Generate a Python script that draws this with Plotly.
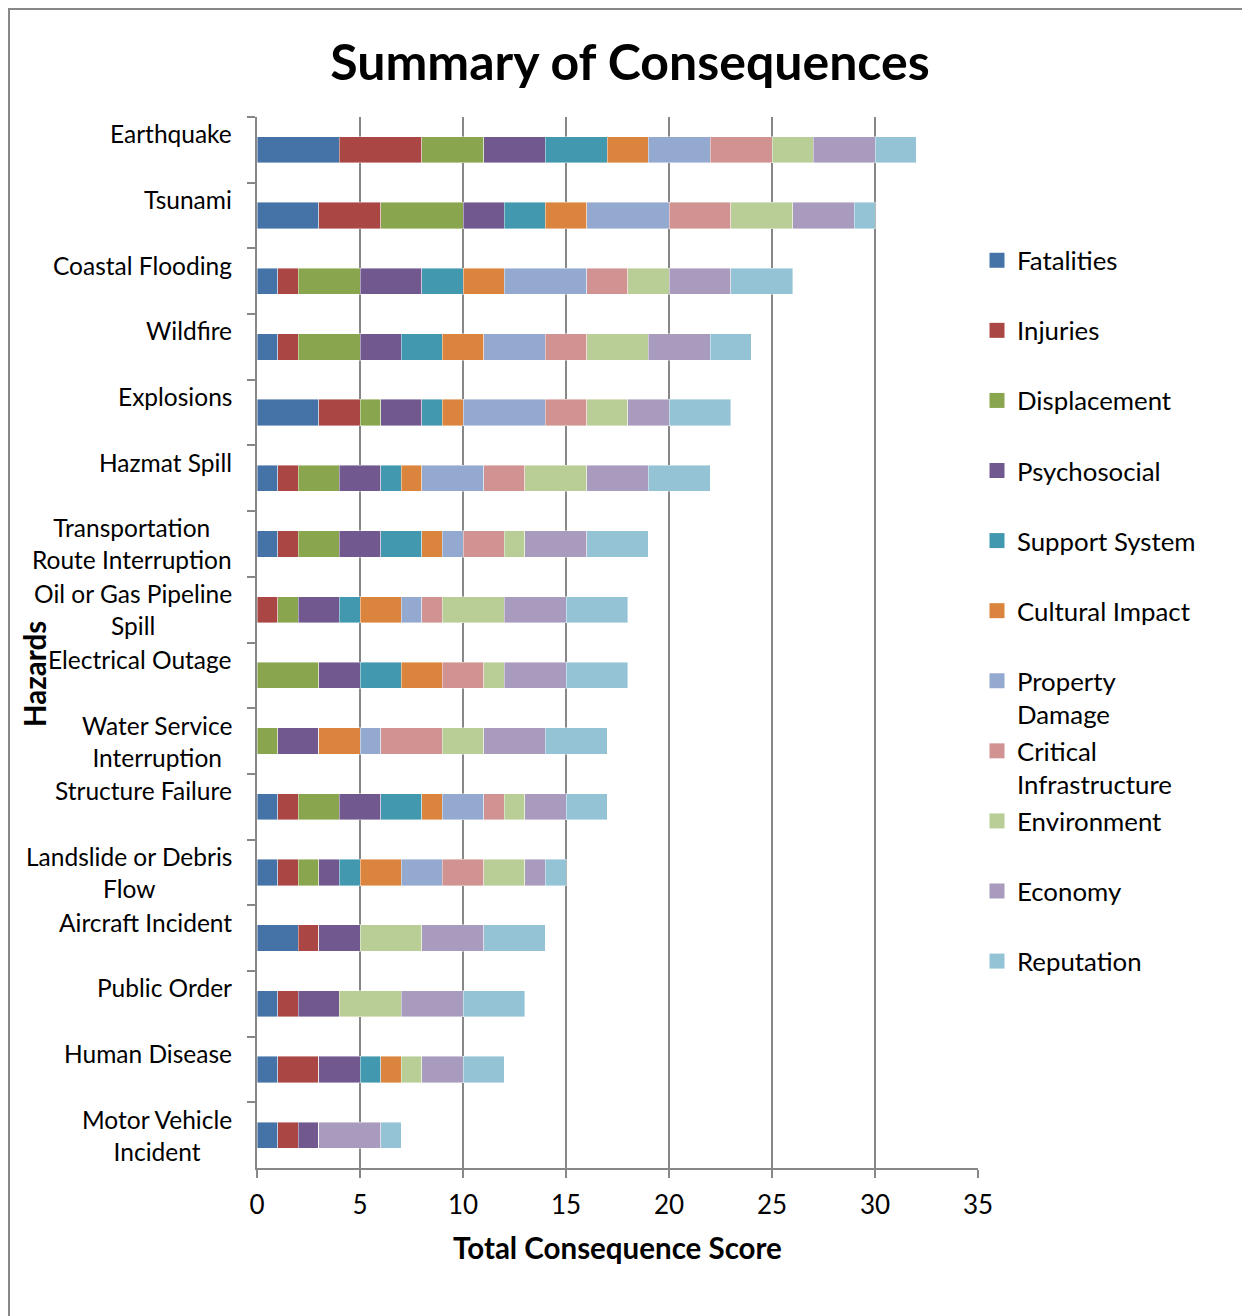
import plotly.graph_objects as go

hazards = ["Earthquake", "Tsunami", "Coastal Flooding", "Wildfire", "Explosions",
           "Hazmat Spill", "Transportation Route Interruption", "Oil or Gas Pipeline Spill",
           "Electrical Outage", "Water Service Interruption", "Structure Failure",
           "Landslide or Debris Flow", "Aircraft Incident", "Public Order",
           "Human Disease", "Motor Vehicle Incident"]

hazard_labels = ["Earthquake<br> ", "Tsunami<br> ", "Coastal Flooding<br> ", "Wildfire<br> ",
                 "Explosions<br> ", "Hazmat Spill<br> ", "Transportation<br>Route Interruption",
                 "Oil or Gas Pipeline<br>Spill", "Electrical Outage<br> ",
                 "Water Service<br>Interruption", "Structure Failure<br> ",
                 "Landslide or Debris<br>Flow", "Aircraft Incident<br> ", "Public Order<br> ",
                 "Human Disease<br> ", "Motor Vehicle<br>Incident"]

series_names = ["Fatalities", "Injuries", "Displacement", "Psychosocial", "Support System",
                "Cultural Impact", "Property Damage", "Critical Infrastructure",
                "Environment", "Economy", "Reputation"]

legend_labels = ["Fatalities<br> ", "Injuries<br> ", "Displacement<br> ", "Psychosocial<br> ",
                 "Support System<br> ", "Cultural Impact<br> ", "Property<br>Damage",
                 "Critical<br>Infrastructure", "Environment<br> ", "Economy<br> ",
                 "Reputation<br> "]

colors = ["#4572A7", "#AA4643", "#89A54E", "#71588F", "#4198AF", "#DB843D",
          "#93A9CF", "#D19392", "#B9CD96", "#A99BBD", "#93C3D5"]

# values per hazard (same order as hazards)
fatalities     = [4, 3, 1, 1, 3, 1, 1, 0, 0, 0, 1, 1, 2, 1, 1, 1]
injuries       = [4, 3, 1, 1, 2, 1, 1, 1, 0, 0, 1, 1, 1, 1, 2, 1]
displacement   = [3, 4, 3, 3, 1, 2, 2, 1, 3, 1, 2, 1, 0, 0, 0, 0]
psychosocial   = [3, 2, 3, 2, 2, 2, 2, 2, 2, 2, 2, 1, 2, 2, 2, 1]
support_system = [3, 2, 2, 2, 1, 1, 2, 1, 2, 0, 2, 1, 0, 0, 1, 0]
cultural       = [2, 2, 2, 2, 1, 1, 1, 2, 2, 2, 1, 2, 0, 0, 1, 0]
property_dmg   = [3, 4, 4, 3, 4, 3, 1, 1, 0, 1, 2, 2, 0, 0, 0, 0]
critical_infra = [3, 3, 2, 2, 2, 2, 2, 1, 2, 3, 1, 2, 0, 0, 0, 0]
environment    = [2, 3, 2, 3, 2, 3, 1, 3, 1, 2, 1, 2, 3, 3, 1, 0]
economy        = [3, 3, 3, 3, 2, 3, 3, 3, 3, 3, 2, 1, 3, 3, 2, 3]
reputation     = [2, 1, 3, 2, 3, 3, 3, 3, 3, 3, 2, 1, 3, 3, 2, 1]

series_values = [fatalities, injuries, displacement, psychosocial, support_system, cultural,
                 property_dmg, critical_infra, environment, economy, reputation]

x_ticks = [0, 5, 10, 15, 20, 25, 30, 35]

FONT = "Lato"
GRID = "#878787"
OFF = 8                      # page body margin
W, H = 1250 - OFF, 1316 - OFF
PX0, PX1, PY0, PY1 = 257, 978, 117, 1168   # plot area in screen pixels
L, T = PX0 - OFF, PY0 - OFF
R, B = W - (PX1 - OFF), H - (PY1 - OFF)

def px_x(p):
    return (p - PX0) / (PX1 - PX0)

def px_y(p):
    return (PY1 - p) / (PY1 - PY0)

fig = go.Figure()
for name, lab, col, vals in zip(series_names, legend_labels, colors, series_values):
    fig.add_trace(go.Bar(
        y=hazards, x=vals, name=lab, orientation="h", legendgroup=name, showlegend=False,
        marker=dict(color=col, line=dict(color="rgba(255,255,255,0.6)", width=0.7)),
        hovertemplate=name + ": %{x}<extra>%{y}</extra>",
    ))
# legend entries with larger square swatches
for name, lab, col in zip(series_names, legend_labels, colors):
    fig.add_trace(go.Scatter(
        x=[None], y=[None], mode="markers", name=lab, legendgroup=name, showlegend=True,
        marker=dict(symbol="square", size=15, color=col, line=dict(width=0)),
        hoverinfo="skip",
    ))

for h, lab in zip(hazards, hazard_labels):
    fig.add_annotation(x=px_x(234), xref="paper", y=h, yref="y", text=lab,
                       showarrow=False, xanchor="right", yanchor="middle", align="center",
                       font=dict(family=FONT, size=24.5, color="black"))

fig.add_annotation(x=px_x(34), xref="paper", y=px_y(674), yref="paper", text="<b>Hazards</b>",
                   textangle=-90, showarrow=False, xanchor="center", yanchor="middle",
                   font=dict(family=FONT, size=29.5, color="black"))

fig.add_shape(type="rect", xref="paper", yref="paper",
              x0=px_x(9), x1=px_x(1275), y0=px_y(9), y1=px_y(1340),
              line=dict(color=GRID, width=2), fillcolor="rgba(0,0,0,0)", layer="below")

fig.update_layout(
    width=W, height=H, barmode="stack", bargap=0.6,
    margin=dict(l=L, r=R, t=T, b=B, pad=0),
    paper_bgcolor="white", plot_bgcolor="white",
    font=dict(family=FONT, color="black"),
    title=dict(text="<b>Summary of Consequences</b>", x=(630 - OFF) / W, xanchor="center",
               y=1 - (62 - OFF) / H, yanchor="middle",
               font=dict(family=FONT, size=50, color="black")),
    legend=dict(x=px_x(977), xanchor="left", y=px_y(237), yanchor="top",
                traceorder="normal", valign="top", font=dict(family=FONT, size=25.8),
                itemsizing="trace", bgcolor="rgba(0,0,0,0)"),
    xaxis=dict(range=[0, 35], tickvals=x_ticks, showgrid=True, gridcolor=GRID, gridwidth=1.5,
               showline=True, linecolor=GRID, linewidth=1.5, ticks="outside", ticklen=8,
               tickcolor=GRID, tickwidth=1.5, zeroline=False, ticklabelstandoff=5,
               tickfont=dict(family=FONT, size=26),
               title=dict(text="<b>Total Consequence Score</b>", standoff=19,
                          font=dict(family=FONT, size=29.5))),
    yaxis=dict(categoryorder="array", categoryarray=hazards, autorange="reversed",
               showticklabels=False, showline=True, linecolor=GRID, linewidth=1.5,
               ticks="outside", tickson="boundaries", ticklen=8, tickcolor=GRID, tickwidth=1.5,
               showgrid=False, zeroline=False),
)

fig.write_html("out.html")
